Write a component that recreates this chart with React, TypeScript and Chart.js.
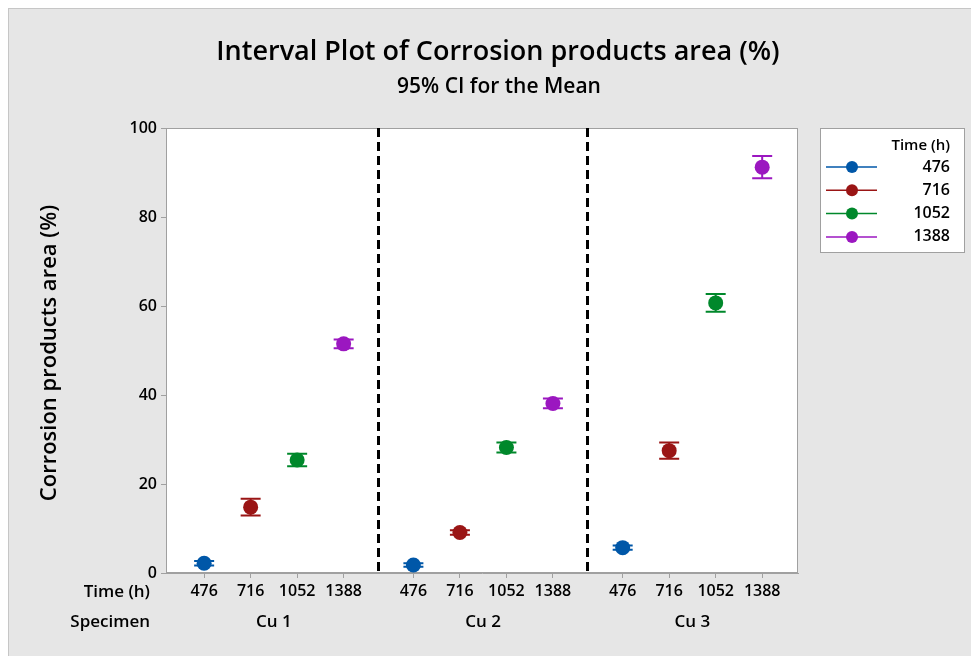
import React, { useEffect, useRef } from "react";
import { Chart, registerables } from "chart.js";

Chart.register(...registerables);

const specimens = ["Cu 1", "Cu 2", "Cu 3"];
const times = ["476", "716", "1052", "1388"];
const colors = ["#0057a8", "#9a1515", "#00882b", "#9b17c0"];
// means per time, for Cu 1, Cu 2, Cu 3
const mean476 = [2.2, 1.8, 5.7];
const mean716 = [14.8, 9.1, 27.5];
const mean1052 = [25.4, 28.2, 60.7];
const mean1388 = [51.5, 38.1, 91.2];
// 95% CI half-widths
const ci476 = [0.5, 0.4, 0.5];
const ci716 = [1.9, 0.5, 1.8];
const ci1052 = [1.4, 1.1, 2.0];
const ci1388 = [1.0, 1.1, 2.5];
const yTicks = [0, 20, 40, 60, 80, 100];

const means = [mean476, mean716, mean1052, mean1388];
const cis = [ci476, ci716, ci1052, ci1388];
const GROUP_STEP = 4.5;
const xPos = (g: number, t: number) => g * GROUP_STEP + t;
const tickPositions: number[] = [];
specimens.forEach((_, g) => times.forEach((_, t) => tickPositions.push(xPos(g, t))));

const W = 971;
const H = 648;
const FONT = "'Open Sans', 'Noto Sans', sans-serif";

export default function App() {
  const ref = useRef<HTMLCanvasElement>(null);
  useEffect(() => {
    document.documentElement.style.overflow = "hidden";
    const canvas = ref.current!;
    const decor = {
      id: "decor",
      beforeDraw(chart: any) {
        const { ctx, chartArea: a } = chart;
        ctx.save();
        ctx.fillStyle = "#e6e6e6";
        ctx.fillRect(0, 0, W, H);
        ctx.fillStyle = "#c6c6c6";
        ctx.fillRect(0, 0, W, 1);
        ctx.fillRect(0, 0, 1, H);
        ctx.fillStyle = "#ffffff";
        ctx.fillRect(a.left, a.top, a.right - a.left, a.bottom - a.top);
        ctx.restore();
      },
      beforeDatasetsDraw(chart: any) {
        const { ctx, chartArea: a, scales } = chart;
        const xs = scales.x, ys = scales.y;
        ctx.save();
        // frame
        ctx.strokeStyle = "#a0a0a0";
        ctx.lineWidth = 1;
        ctx.strokeRect(a.left + 0.5, a.top + 0.5, a.right - a.left - 1, a.bottom - a.top - 1);
        // dividers
        ctx.strokeStyle = "#000";
        ctx.lineWidth = 3;
        ctx.setLineDash([9, 5]);
        for (let g = 1; g < specimens.length; g++) {
          const xv = Math.round(xs.getPixelForValue(xPos(g, 0) - (GROUP_STEP - 3) / 2)) - 0.5;
          ctx.beginPath();
          ctx.moveTo(xv, a.top);
          ctx.lineTo(xv, a.bottom + 1);
          ctx.stroke();
        }
        ctx.setLineDash([]);
        // error bars
        ctx.lineWidth = 2;
        times.forEach((_, t) => {
          ctx.strokeStyle = colors[t];
          specimens.forEach((_, g) => {
            const px = xs.getPixelForValue(xPos(g, t));
            const hi = ys.getPixelForValue(means[t][g] + cis[t][g]);
            const lo = ys.getPixelForValue(means[t][g] - cis[t][g]);
            ctx.beginPath();
            ctx.moveTo(px, hi);
            ctx.lineTo(px, lo);
            ctx.moveTo(px - 10, hi);
            ctx.lineTo(px + 10, hi);
            ctx.moveTo(px - 10, lo);
            ctx.lineTo(px + 10, lo);
            ctx.stroke();
          });
        });
        ctx.restore();
      },
      afterDraw(chart: any) {
        const { ctx, scales } = chart;
        const xs = scales.x;
        ctx.save();
        ctx.fillStyle = "#000";
        ctx.textBaseline = "middle";
        ctx.textAlign = "center";
        ctx.font = `600 27px ${FONT}`;
        ctx.fillText("Interval Plot of Corrosion products area (%)", 490, 44);
        ctx.font = `600 21px ${FONT}`;
        ctx.fillText("95% CI for the Mean", 491, 79);
        // y title
        ctx.save();
        ctx.translate(42, 345);
        ctx.rotate(-Math.PI / 2);
        ctx.font = `600 22px ${FONT}`;
        ctx.fillText("Corrosion products area (%)", 0, 0);
        ctx.restore();
        // x labels
        ctx.font = `600 17px ${FONT}`;
        ctx.textAlign = "right";
        ctx.fillText("Time (h)", 142, 584);
        ctx.fillText("Specimen", 142, 614);
        ctx.textAlign = "center";
        specimens.forEach((s, g) => {
          ctx.fillText(s, xs.getPixelForValue(xPos(g, 1.5)), 614);
        });
        // legend
        const lx = 812, ly = 120, lw = 145, lh = 125;
        ctx.fillStyle = "#fff";
        ctx.fillRect(lx, ly, lw, lh);
        ctx.strokeStyle = "#a0a0a0";
        ctx.lineWidth = 1;
        ctx.strokeRect(lx + 0.5, ly + 0.5, lw - 1, lh - 1);
        ctx.fillStyle = "#000";
        ctx.textAlign = "right";
        ctx.font = `600 15px ${FONT}`;
        ctx.fillText("Time (h)", 942, 138);
        ctx.font = `600 16px ${FONT}`;
        times.forEach((tl, t) => {
          const y = 159 + t * 23.3;
          ctx.strokeStyle = colors[t];
          ctx.lineWidth = 1.5;
          ctx.beginPath();
          ctx.moveTo(818, y);
          ctx.lineTo(869, y);
          ctx.stroke();
          ctx.fillStyle = colors[t];
          ctx.beginPath();
          ctx.arc(844, y, 6, 0, Math.PI * 2);
          ctx.fill();
          ctx.fillStyle = "#000";
          ctx.fillText(tl, 942, y);
        });
        ctx.restore();
      },
    };

    const chart = new Chart(canvas, {
      type: "scatter",
      data: {
        datasets: times.map((tl, t) => ({
          label: tl,
          data: specimens.map((_, g) => ({ x: xPos(g, t), y: means[t][g] })),
          backgroundColor: colors[t],
          borderColor: colors[t],
          pointRadius: 7.5,
          borderWidth: 0,
        })),
      },
      options: {
        responsive: false,
        animation: false,
        devicePixelRatio: 1,
        layout: { padding: { top: 120, right: 181, left: 0, bottom: 0 } },
        plugins: { legend: { display: false }, tooltip: { enabled: false } },
        scales: {
          x: {
            type: "linear",
            min: -0.82,
            max: 12.77,
            afterBuildTicks: (scale: any) => {
              scale.ticks = tickPositions.map((v) => ({ value: v }));
            },
            afterFit: (scale: any) => {
              scale.height = 83;
            },
            ticks: {
              autoSkip: false,
              maxRotation: 0,
              padding: 4,
              color: "#000",
              font: { family: FONT, size: 16, weight: "600" },
              callback: (_v: any, i: number) => times[i % times.length],
            },
            grid: { drawOnChartArea: false, drawTicks: true, tickLength: 5, color: "#a0a0a0" },
            border: { color: "#a0a0a0" },
          },
          y: {
            min: 0,
            max: 100,
            afterBuildTicks: (scale: any) => {
              scale.ticks = yTicks.map((v) => ({ value: v }));
            },
            afterFit: (scale: any) => {
              scale.width = 158;
            },
            ticks: {
              padding: 4,
              color: "#000",
              font: { family: FONT, size: 16, weight: "600" },
            },
            grid: { drawOnChartArea: false, drawTicks: true, tickLength: 5, color: "#a0a0a0" },
            border: { color: "#a0a0a0" },
          },
        },
      },
      plugins: [decor],
    } as any);
    return () => chart.destroy();
  }, []);
  return (
    <div style={{ width: W, height: H }}>
      <canvas ref={ref} width={W} height={H} style={{ display: "block", width: W, height: H }} />
    </div>
  );
}
